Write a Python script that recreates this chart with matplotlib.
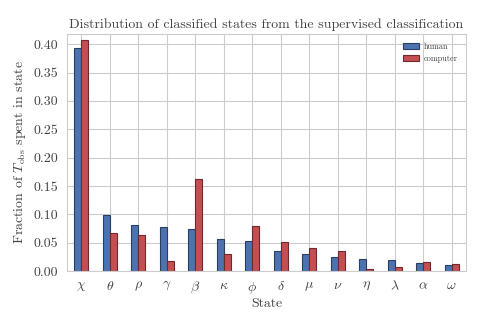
import numpy as np
import matplotlib
matplotlib.use("Agg")
import matplotlib.pyplot as plt
import seaborn as sns

# stari si fractiuni de timp
states = [r"$\chi$", r"$\theta$", r"$\rho$", r"$\gamma$", r"$\beta$", r"$\kappa$", r"$\phi$",
          r"$\delta$", r"$\mu$", r"$\nu$", r"$\eta$", r"$\lambda$", r"$\alpha$", r"$\omega$"]
human = [0.394, 0.099, 0.082, 0.078, 0.074, 0.056, 0.053,
         0.036, 0.031, 0.024, 0.021, 0.019, 0.015, 0.010]
computer = [0.408, 0.068, 0.063, 0.018, 0.162, 0.031, 0.079,
            0.051, 0.040, 0.036, 0.003, 0.008, 0.016, 0.012]

sns.set_style("whitegrid")
plt.rcParams["font.family"] = "serif"
plt.rcParams["font.serif"] = ["cmr10", "DejaVu Serif"]
plt.rcParams["mathtext.fontset"] = "cm"
plt.rcParams["axes.formatter.use_mathtext"] = True

fig = plt.figure(figsize=(4.91, 3.27), dpi=100)
ax = fig.add_axes([0.1365, 0.171, 0.8125, 0.725])

x = np.arange(len(states))
w = 0.25
ax.bar(x - w / 2, human, w, color="#4C72B0", edgecolor="#2b3f63", linewidth=0.8, label="human")
ax.bar(x + w / 2, computer, w, color="#C44E52", edgecolor="#6e2a2d", linewidth=0.8, label="computer")

ax.set_xlim(-0.5, len(states) - 0.5)
ax.set_ylim(0, 0.418)
ax.set_yticks(np.arange(0, 0.41, 0.05))
ax.set_yticklabels([f"{v:.2f}" for v in np.arange(0, 0.41, 0.05)])
ax.set_xticks(x)
ax.set_xticklabels(states)
ax.tick_params(axis="both", labelsize=10, colors="#444444", pad=3)

ax.set_title("Distribution of classified states from the supervised classification",
             fontsize=10, color="#444444", pad=4)
ax.set_xlabel("State", fontsize=10, color="#444444", labelpad=1)
ax.set_ylabel(r"Fraction of $T_{\rm obs}$ spent in state", fontsize=10, color="#444444")

leg = ax.legend(loc="upper right", fontsize=6, frameon=False, handlelength=2.0,
                handletextpad=0.5, borderaxespad=0.6)
for t in leg.get_texts():
    t.set_color("#444444")

fig.savefig("out.png", dpi=100)
